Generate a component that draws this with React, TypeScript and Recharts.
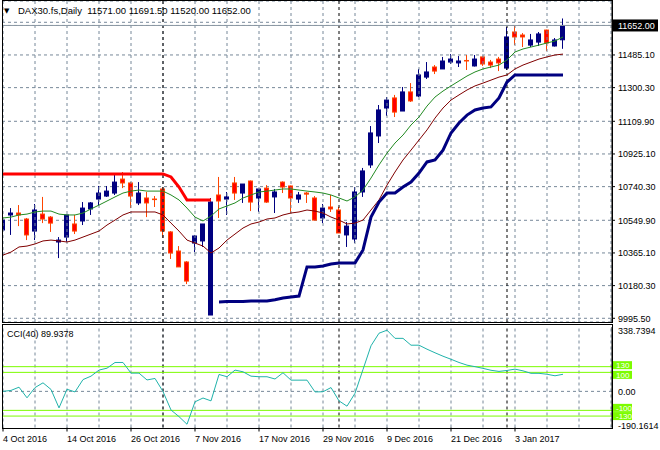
import React from "react";
import {
  ComposedChart,
  LineChart,
  Bar,
  Line,
  XAxis,
  YAxis,
  CartesianGrid,
  ReferenceLine,
} from "recharts";

const FONT = "'Liberation Sans', Arial, sans-serif";
const NAVY = "#000080";
const BEAR_FILL = "#ff0000";
const BEAR_EDGE = "#ff4500";
const GRID = "#778899";

// daily OHLC, 4 Oct 2016 .. 11 Jan 2017
const opens = [
  10495, 10580, 10591, 10557, 10489, 10585, 10568, 10427, 10455, 10529,
  10546, 10614, 10670, 10687, 10704, 10783, 10761, 10648, 10676, 10670,
  10727, 10484, 10376, 10314, 10421, 10433, 10014, 10693, 10670, 10761,
  10704, 10772, 10676, 10732, 10682, 10766, 10744, 10670, 10704, 10676,
  10563, 10625, 10608, 10467, 10444, 10710, 10863, 11027, 11185, 11242,
  11168, 11276, 11253, 11360, 11417, 11406, 11445, 11440, 11454, 11423,
  11474, 11445, 11462, 11411, 11615, 11598, 11541, 11558, 11626, 11536,
  11571,
];
const highs = [
  10636, 10619, 10636, 10563, 10642, 10682, 10574, 10455, 10580, 10580,
  10653, 10653, 10744, 10744, 10817, 10823, 10766, 10766, 10710, 10687,
  10738, 10489, 10404, 10319, 10467, 10529, 10676, 10795, 10710, 10795,
  10755, 10775, 10727, 10749, 10727, 10770, 10746, 10710, 10710, 10687,
  10642, 10693, 10625, 10540, 10738, 10846, 11083, 11202, 11247, 11259,
  11304, 11326, 11406, 11445, 11428, 11474, 11490, 11479, 11485, 11485,
  11477, 11457, 11474, 11643, 11649, 11609, 11604, 11615, 11628, 11581,
  11691.5,
];
const lows = [
  10438, 10467, 10517, 10438, 10438, 10534, 10484, 10336, 10427, 10472,
  10523, 10580, 10636, 10682, 10693, 10732, 10619, 10636, 10568, 10625,
  10450, 10331, 10286, 10189, 10370, 10399, 10014, 10563, 10580, 10665,
  10648, 10602, 10597, 10648, 10591, 10704, 10591, 10648, 10648, 10551,
  10534, 10597, 10478, 10399, 10421, 10682, 10846, 10987, 11140, 11134,
  11168, 11219, 11247, 11349, 11377, 11406, 11434, 11417, 11400, 11420,
  11423, 11411, 11394, 11400, 11541, 11530, 11530, 11536, 11508, 11533,
  11520,
];
const closes = [
  10551, 10591, 10580, 10467, 10608, 10557, 10534, 10438, 10580, 10489,
  10619, 10648, 10704, 10715, 10766, 10761, 10687, 10704, 10648, 10667,
  10489, 10365, 10286, 10206, 10461, 10529, 10653, 10659, 10682, 10704,
  10755, 10653, 10727, 10653, 10710, 10738, 10676, 10693, 10698, 10551,
  10619, 10614, 10478, 10517, 10710, 10829, 11044, 11174, 11230, 11162,
  11276, 11225, 11372, 11389, 11394, 11451, 11462, 11451, 11451, 11462,
  11434, 11428, 11440, 11587, 11587, 11587, 11570, 11604, 11553, 11570,
  11652,
];

// moving averages
const fastMa = [
  10563, 10568, 10580, 10585, 10597, 10602, 10602, 10585, 10580, 10580,
  10591, 10614, 10636, 10659, 10682, 10704, 10715, 10721, 10715, 10715,
  10715, 10693, 10665, 10619, 10568, 10546, 10574, 10614, 10631, 10648,
  10676, 10693, 10710, 10715, 10721, 10727, 10727, 10721, 10715, 10710,
  10704, 10693, 10676, 10659, 10682, 10721, 10789, 10863, 10930, 10987,
  11032, 11089, 11134, 11196, 11247, 11281, 11310, 11338, 11366, 11389,
  11406, 11417, 11428, 11457, 11502, 11519, 11530, 11541, 11553, 11564,
  11587,
];
const slowMa = [
  10353, 10370, 10399, 10404, 10416, 10433, 10438, 10433, 10427, 10438,
  10455, 10472, 10489, 10523, 10551, 10580, 10597, 10597, 10597, 10597,
  10580, 10534, 10489, 10438, 10421, 10404, 10365, 10393, 10438, 10472,
  10506, 10529, 10540, 10557, 10563, 10580, 10591, 10597, 10608, 10602,
  10591, 10568, 10551, 10529, 10534, 10551, 10608, 10665, 10749, 10823,
  10891, 10947, 11004, 11061, 11128, 11185, 11230, 11259, 11287, 11310,
  11326, 11343, 11360, 11372, 11406, 11428, 11445, 11462, 11474, 11485,
  11490,
];

// trailing stop: above price first (red), then below price (blue)
const stopDown = [
  10812, 10812, 10812, 10812, 10812, 10812, 10812, 10812, 10812, 10812,
  10812, 10812, 10812, 10812, 10812, 10812, 10812, 10812, 10812, 10812,
  10812, 10795, 10738, 10665, 10665, 10665, 10665,
];
const stopUp = [
  10088, 10090, 10090, 10090, 10093, 10093, 10093, 10100, 10110, 10116,
  10121, 10286, 10286, 10291, 10303, 10308, 10308, 10308, 10382, 10568,
  10653, 10704, 10704, 10738, 10766, 10817, 10880, 10891, 10947, 11044,
  11100, 11145, 11174, 11185, 11191, 11242, 11332, 11372, 11372, 11372,
  11372, 11372, 11372, 11372,
];

const cci = [
  0, 5, 22, -34, 20, 45, 10, -87, 11, -3,
  62, 80, 112, 122, 152, 152, 96, 96, 60, 68,
  -1, -98, -133, -173, -55, -35, -50, 89, 77, 112,
  103, 80, 77, 77, 65, 98, 59, 59, 59, -3,
  -2, 20, -50, -78, -10, 115, 240, 306, 322, 279,
  279, 243, 243, 222, 203, 185, 169, 152, 138, 130,
  121, 111, 105, 110, 117, 108, 95, 95, 90, 82,
  89.9378,
];

const dateBars = [0, 8, 16, 24, 32, 40, 48, 56, 64];
const dateLabels = [
  "4 Oct 2016", "14 Oct 2016", "26 Oct 2016", "7 Nov 2016", "17 Nov 2016",
  "29 Nov 2016", "9 Dec 2016", "21 Dec 2016", "3 Jan 2017",
];
const gridBars = [0, 4, 8, 12, 16, 20, 24, 28, 32, 36, 40, 44, 48, 52, 56, 60, 64, 68, 72, 76];
const periodBars = [20, 42, 63];
const priceTicks = [9995.5, 10180.3, 10365.1, 10549.9, 10740.3, 10925.1, 11109.9, 11300.3, 11485.1, 11670];
const cciLevels = [100, 130, -100, -130];
const cciMax = 338.7394;
const cciMin = -190.1614;

const X_DOMAIN = [-0.125, 76.125];
const PRICE_DOMAIN = [9974.5, 11790.4];
const last = opens.length - 1;
const lastClose = closes[last];

const rows = opens.map((o, i) => ({
  i,
  o,
  h: highs[i],
  l: lows[i],
  c: closes[i],
  range: [lows[i], highs[i]],
  fast: fastMa[i],
  slow: slowMa[i],
  stopDn: i < stopDown.length ? stopDown[i] : null,
  stopUp: i >= stopDown.length ? stopUp[i - stopDown.length] : null,
  cci: cci[i],
}));

const Candle = (props: any) => {
  const { x, y, width, height, payload } = props;
  const { o, h, l, c } = payload;
  const span = h - l || 1;
  const py = (p: number) => y + ((h - p) / span) * height;
  const cx = Math.floor(x + width / 2) + 0.5;
  const up = c >= o;
  const top = py(Math.max(o, c));
  const bot = py(Math.min(o, c));
  const edge = up ? NAVY : BEAR_EDGE;
  return (
    <g>
      <line x1={cx} x2={cx} y1={y} y2={y + height} stroke={edge} strokeWidth={1} />
      <rect
        x={cx - 2}
        y={top}
        width={4}
        height={Math.max(bot - top, 0.5)}
        fill={up ? NAVY : BEAR_FILL}
        stroke={edge}
        strokeWidth={1}
      />
    </g>
  );
};

const PriceTick = ({ x, y, payload }: any) => {
  const v = payload.value;
  if (v === lastClose) {
    return (
      <g>
        <rect x={x - 5} y={y - 6} width={45} height={12} fill="#000" />
        <text x={x} y={y} dy={3.5} fill="#fff" fontSize={9} fontFamily={FONT} textAnchor="start">
          {v.toFixed(2)}
        </text>
      </g>
    );
  }
  if (v > lastClose) return null;
  return (
    <text x={x} y={y} dy={3.5} fill="#000" fontSize={9} fontFamily={FONT} textAnchor="start">
      {v.toFixed(2)}
    </text>
  );
};

// level boxes sit pushed apart a little, as the terminal draws them
const levelShift: Record<number, number> = { 130: -1.5, 100: 2.5, [-100]: -2.5, [-130]: 0 };

const CciTick = ({ x, y, payload }: any) => {
  const v = payload.value;
  if (cciLevels.includes(v)) {
    const yy = y + (levelShift[v] || 0);
    return (
      <g>
        <rect x={x - 5} y={yy - 4} width={19} height={8} fill="#7cfc00" />
        <text x={x - 2} y={yy} dy={3} fill="#fff" fontSize={8} fontFamily={FONT} textAnchor="start">
          {v}
        </text>
      </g>
    );
  }
  const dy = v === cciMax ? 7 : v === cciMin ? 1 : 3.5;
  return (
    <text x={x} y={y} dy={dy} fill="#000" fontSize={9} fontFamily={FONT} textAnchor="start">
      {v === 0 ? "0.00" : v.toFixed(4)}
    </text>
  );
};

const DateTick = ({ x, y, payload }: any) => {
  const k = dateBars.indexOf(payload.value);
  return (
    <text x={x} y={y} dy={8.5} fill="#000" fontSize={9} fontFamily={FONT} textAnchor="start">
      {dateLabels[k]}
    </text>
  );
};

const fmt = (v: number) => v.toFixed(2);
const title = `DAX30.fs,Daily  ${fmt(opens[last])} ${fmt(highs[last])} ${fmt(lows[last])} ${fmt(closes[last])}`;

export default function App() {
  return (
    <div style={{ position: "absolute", left: 0, top: 0, width: 660, height: 450, background: "#fff", fontFamily: FONT }}>
      <div style={{ position: "absolute", left: 0, top: 0 }}>
        <ComposedChart width={660} height={323} data={rows} margin={{ top: 1, right: 0, bottom: 1, left: 2 }}>
          <XAxis type="number" dataKey="i" domain={X_DOMAIN} hide allowDataOverflow />
          <YAxis
            orientation="right"
            type="number"
            width={48}
            domain={PRICE_DOMAIN}
            allowDataOverflow
            ticks={[...priceTicks, lastClose]}
            interval={0}
            axisLine={{ stroke: "#000" }}
            tickLine={{ stroke: "#000" }}
            tickSize={3}
            tickMargin={3}
            tick={<PriceTick />}
          />
          <CartesianGrid vertical={false} stroke={GRID} strokeDasharray="3 3" />
          {gridBars.map((b) => (
            <ReferenceLine key={`g${b}`} x={b} stroke={GRID} strokeDasharray="3 3" />
          ))}
          {periodBars.map((b) => (
            <ReferenceLine key={`p${b}`} x={b} stroke="#000" strokeDasharray="3 3" />
          ))}
          <ReferenceLine y={lastClose} stroke="#8c98a4" />
          <Bar dataKey="range" barSize={5} isAnimationActive={false} shape={(p: any) => <Candle {...p} />} />
          <Line dataKey="slow" stroke="#800000" strokeWidth={1} dot={false} isAnimationActive={false} />
          <Line dataKey="fast" stroke="#228b22" strokeWidth={1} dot={false} isAnimationActive={false} />
          <Line dataKey="stopDn" stroke="#ff0000" strokeWidth={3} dot={false} isAnimationActive={false} />
          <Line dataKey="stopUp" stroke={NAVY} strokeWidth={3} dot={false} isAnimationActive={false} />
        </ComposedChart>
      </div>
      <div style={{ position: "absolute", left: 0, top: 323, background: "#fff" }}>
        <LineChart width={660} height={127} data={rows} margin={{ top: 4, right: 0, bottom: 0, left: 2 }}>
          <XAxis
            type="number"
            dataKey="i"
            domain={X_DOMAIN}
            allowDataOverflow
            ticks={dateBars}
            interval={0}
            height={22.5}
            axisLine={false}
            tickLine={{ stroke: "#000" }}
            tickSize={4}
            tick={<DateTick />}
          />
          <YAxis
            orientation="right"
            type="number"
            width={48}
            domain={[cciMin, cciMax]}
            allowDataOverflow
            ticks={[cciMax, 0, cciMin, ...cciLevels]}
            interval={0}
            axisLine={{ stroke: "#000" }}
            tickLine={false}
            tickSize={0}
            tickMargin={6}
            tick={<CciTick />}
          />
          {gridBars.map((b) => (
            <ReferenceLine key={`g${b}`} x={b} stroke={GRID} strokeDasharray="3 3" />
          ))}
          {periodBars.map((b) => (
            <ReferenceLine key={`p${b}`} x={b} stroke="#000" strokeDasharray="3 3" />
          ))}
          <ReferenceLine y={0} stroke={GRID} strokeDasharray="3 3" />
          {cciLevels.map((v) => (
            <ReferenceLine key={`l${v}`} y={v} stroke="#7cfc00" />
          ))}
          <Line dataKey="cci" stroke="#20b2aa" strokeWidth={1} dot={false} isAnimationActive={false} />
        </LineChart>
      </div>
      <svg width={660} height={450} style={{ position: "absolute", left: 0, top: 0, pointerEvents: "none" }}>
        <rect x={2.5} y={0.5} width={610} height={322} fill="none" stroke="#000" />
        <rect x={2.5} y={324.5} width={610} height={104} fill="none" stroke="#000" />
        <text x={4} y={13} fontSize={7} fontFamily="'DejaVu Sans', sans-serif" fill="#000">▼</text>
        <text x={18} y={14} fontSize={9.5} fontFamily={FONT} fill="#000" style={{ whiteSpace: "pre" }}>
          {title}
        </text>
        <text x={7} y={337} fontSize={9} fontFamily={FONT} fill="#000">
          CCI(40) 89.9378
        </text>
      </svg>
    </div>
  );
}
